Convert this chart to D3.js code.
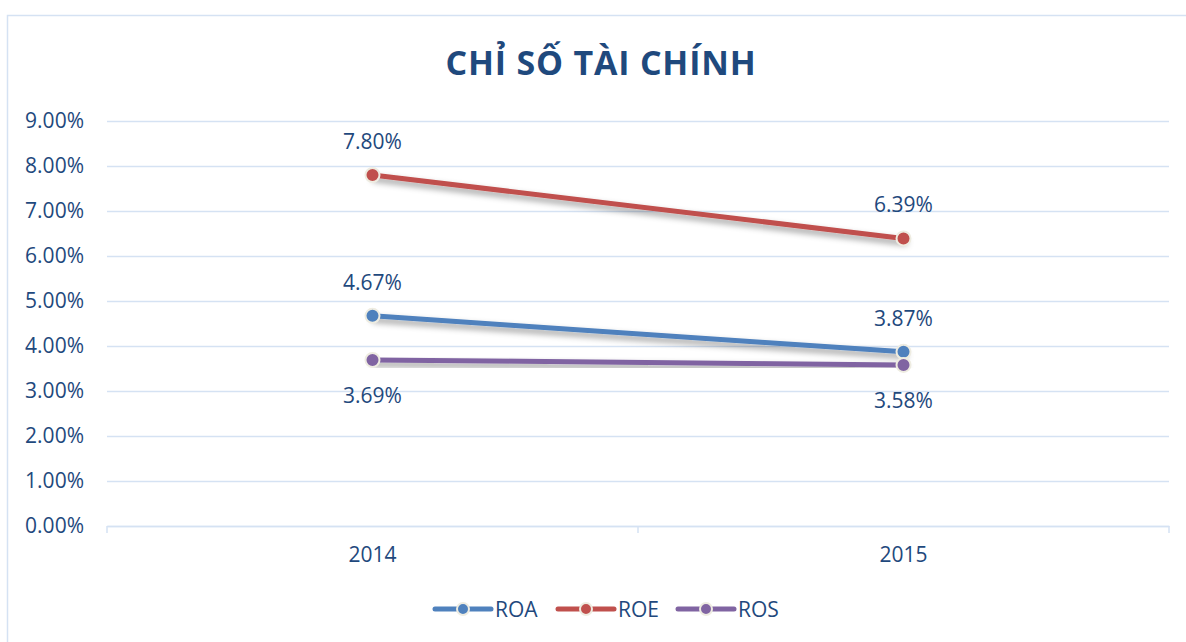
<!DOCTYPE html>
<html>
<head>
<meta charset="utf-8">
<script src="https://cdn.jsdelivr.net/npm/d3@7"></script>
<style>
  body { margin: 0; background: #fff; }
  svg text { font-family: "Open Sans", sans-serif; fill: #1F497D; }
</style>
</head>
<body>
<div id="chart"></div>
<script>
// data
var years = ["2014", "2015"];
var seriesNames = ["ROA", "ROE", "ROS"];
var roa = [4.67, 3.87];
var roe = [7.80, 6.39];
var ros = [3.69, 3.58];
var yTicks = [0, 1, 2, 3, 4, 5, 6, 7, 8, 9];
var seriesColors = ["#4F81BD", "#C0504D", "#8064A2"];
var labelAbove = [true, true, false];

var svgWidth = 1186;
var svgHeight = 642;

var margin = { top: 121, left: 107, right: 17, bottom: 116 };
var width = svgWidth - margin.left - margin.right;
var height = svgHeight - margin.top - margin.bottom;

var svg = d3.select("#chart")
  .append("svg")
  .attr("width", svgWidth)
  .attr("height", svgHeight);

// soft shadow under the lines
var filter = svg.append("defs").append("filter")
  .attr("id", "shadow")
  .attr("x", "-10%").attr("y", "-50%")
  .attr("width", "120%").attr("height", "200%");
filter.append("feDropShadow")
  .attr("dx", 2).attr("dy", 4)
  .attr("stdDeviation", 3)
  .attr("flood-color", "#000")
  .attr("flood-opacity", 0.4);

// chart area border (right/bottom run off the page)
svg.append("rect")
  .attr("x", 7.5).attr("y", 15.5)
  .attr("width", 1200).attr("height", 700)
  .attr("fill", "none")
  .attr("stroke", "#D5E2F3")
  .attr("stroke-width", 1.5);

svg.append("text")
  .attr("x", 601)
  .attr("y", 75)
  .attr("text-anchor", "middle")
  .style("font-size", "34px")
  .style("font-weight", "bold")
  .style("letter-spacing", "0.8px")
  .style("fill", "#1F497D")
  .text("CHỈ SỐ TÀI CHÍNH");

var g = svg.append("g")
  .attr("transform", `translate(${margin.left}, ${margin.top})`);

var xScale = d3.scaleBand()
  .domain(years)
  .range([0, width]);

var yScale = d3.scaleLinear()
  .domain([0, 9])
  .range([height, 0]);

// gridlines + y labels
var yAxis = d3.axisLeft(yScale)
  .tickValues(yTicks)
  .tickSize(-width)
  .tickPadding(23)
  .tickFormat(d => d3.format(".2f")(d) + "%");

var yG = g.append("g").call(yAxis);
yG.select(".domain").remove();
yG.selectAll(".tick line")
  .attr("stroke", "#D5E2F3")
  .attr("stroke-width", 1.5);
yG.selectAll(".tick text")
  .style("font-size", "21px")
  .style("fill", "#1F497D");

// x axis
var xAxis = d3.axisBottom(xScale)
  .tickSize(0)
  .tickPadding(21);
var xG = g.append("g")
  .attr("transform", `translate(0, ${height})`)
  .call(xAxis);
xG.select(".domain")
  .attr("stroke", "#D5E2F3")
  .attr("stroke-width", 1.5);
xG.selectAll(".tick text")
  .style("font-size", "21px")
  .style("fill", "#1F497D");

// tick marks at band edges
var edges = [0].concat(years.map(y => xScale(y) + xScale.bandwidth()));
xG.selectAll(".edge")
  .data(edges)
  .enter()
  .append("line")
  .attr("x1", d => d).attr("x2", d => d)
  .attr("y1", 0).attr("y2", 7)
  .attr("stroke", "#D5E2F3")
  .attr("stroke-width", 1.5);

var series = [roa, roe, ros].map((vals, i) => ({
  name: seriesNames[i],
  color: seriesColors[i],
  above: labelAbove[i],
  points: vals.map((v, j) => ({ year: years[j], value: v }))
}));

var line = d3.line()
  .x(d => xScale(d.year) + xScale.bandwidth() / 2)
  .y(d => yScale(d.value));

var sg = g.selectAll(".series")
  .data(series)
  .enter()
  .append("g");

sg.append("path")
  .attr("d", d => line(d.points))
  .attr("fill", "none")
  .attr("stroke", d => d.color)
  .attr("stroke-width", 5)
  .attr("stroke-linecap", "round")
  .attr("filter", "url(#shadow)");

sg.selectAll("circle")
  .data(d => d.points.map(p => Object.assign({ color: d.color }, p)))
  .enter()
  .append("circle")
  .attr("cx", d => xScale(d.year) + xScale.bandwidth() / 2)
  .attr("cy", d => yScale(d.value))
  .attr("r", 7)
  .attr("fill", d => d.color)
  .attr("stroke", "#EEECE1")
  .attr("stroke-width", 2);

sg.selectAll(".lbl")
  .data(d => d.points.map(p => Object.assign({ above: d.above }, p)))
  .enter()
  .append("text")
  .attr("x", d => xScale(d.year) + xScale.bandwidth() / 2)
  .attr("y", d => yScale(d.value) + (d.above ? -26 : 43))
  .attr("text-anchor", "middle")
  .style("font-size", "21px")
  .text(d => d3.format(".2f")(d.value) + "%");

// legend
var legendX = [435, 558, 678];
var lg = svg.selectAll(".legend")
  .data(series)
  .enter()
  .append("g")
  .attr("transform", (d, i) => `translate(${legendX[i]}, 609)`);

lg.append("line")
  .attr("x1", 0).attr("x2", 56)
  .attr("y1", 0).attr("y2", 0)
  .attr("stroke", d => d.color)
  .attr("stroke-width", 5)
  .attr("stroke-linecap", "round");
lg.append("circle")
  .attr("cx", 28).attr("cy", 0)
  .attr("r", 6)
  .attr("fill", d => d.color)
  .attr("stroke", "#EEECE1")
  .attr("stroke-width", 2);
lg.append("text")
  .attr("x", 60)
  .attr("y", 7.5)
  .style("font-size", "21px")
  .text(d => d.name);
</script>
</body>
</html>
